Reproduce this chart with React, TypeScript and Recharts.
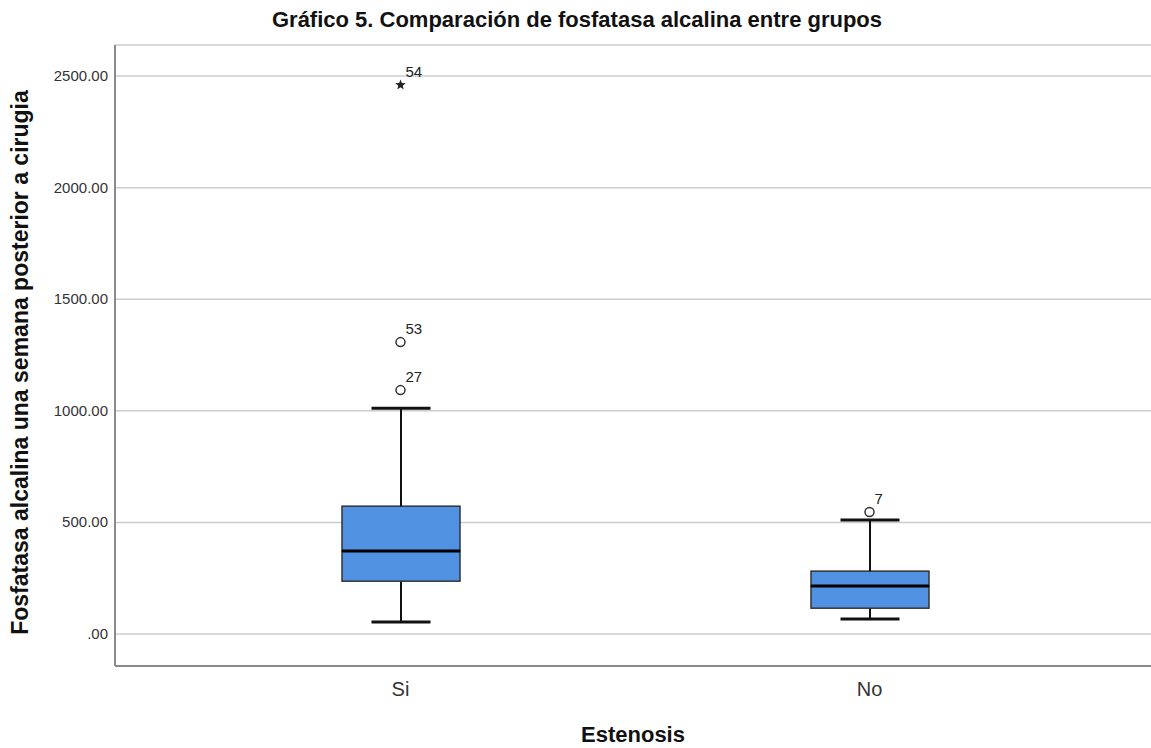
import { ComposedChart, Bar, Scatter, XAxis, YAxis, CartesianGrid, Label } from 'recharts';

const groups = ['Si', 'No'];
const minVals = [54, 67];
const q1Vals = [237, 116];
const medianVals = [372, 215];
const q3Vals = [573, 282];
const maxVals = [1012, 511];

const outlierGroups = ['Si', 'Si', 'Si', 'No'];
const outlierValues = [2460, 1308, 1093, 547];
const outlierIds = ['54', '53', '27', '7'];
const outlierExtreme = [true, false, false, false];

const yTicks = [0, 500, 1000, 1500, 2000, 2500];

const BOX_FILL = '#5191e2';
const FONT = '"Liberation Sans", Arial, sans-serif';

const rows = groups.map((g, i) => {
  const row: Record<string, string | number | null> = {
    group: g,
    base: minVals[i],
    lowWhisker: q1Vals[i] - minVals[i],
    lowBox: medianVals[i] - q1Vals[i],
    highBox: q3Vals[i] - medianVals[i],
    highWhisker: maxVals[i] - q3Vals[i],
  };
  outlierValues.forEach((v, k) => {
    row[`o${k}`] = outlierGroups[k] === g ? v : null;
  });
  return row;
});

const Empty = () => <g />;

const LowWhisker = (p: any) => {
  const cx = p.x + p.width / 2;
  return (
    <g>
      <line x1={cx} x2={cx} y1={p.y} y2={p.y + p.height} stroke="#111" strokeWidth={2} />
      <line x1={p.x + p.width / 4} x2={p.x + (3 * p.width) / 4} y1={p.y + p.height} y2={p.y + p.height} stroke="#111" strokeWidth={3} />
    </g>
  );
};

const HighWhisker = (p: any) => {
  const cx = p.x + p.width / 2;
  return (
    <g>
      <line x1={cx} x2={cx} y1={p.y} y2={p.y + p.height} stroke="#111" strokeWidth={2} />
      <line x1={p.x + p.width / 4} x2={p.x + (3 * p.width) / 4} y1={p.y} y2={p.y} stroke="#111" strokeWidth={3} />
    </g>
  );
};

const LowBox = (p: any) => (
  <rect x={p.x} y={p.y} width={p.width} height={p.height} fill={BOX_FILL} stroke="#333" strokeWidth={1.5} />
);

const HighBox = (p: any) => (
  <g>
    <rect x={p.x} y={p.y} width={p.width} height={p.height} fill={BOX_FILL} stroke="#333" strokeWidth={1.5} />
    <line x1={p.x} x2={p.x + p.width} y1={p.y + p.height} y2={p.y + p.height} stroke="#000" strokeWidth={3} />
  </g>
);

const starPoints = (cx: number, cy: number, r: number) => {
  const pts: string[] = [];
  for (let i = 0; i < 10; i++) {
    const rad = i % 2 === 0 ? r : r * 0.42;
    const a = -Math.PI / 2 + (i * Math.PI) / 5;
    pts.push(`${cx + rad * Math.cos(a)},${cy + rad * Math.sin(a)}`);
  }
  return pts.join(' ');
};

const makeOutlier = (key: string, id: string, extreme: boolean) => (p: any) => {
  const v = p.payload ? p.payload[key] : null;
  if (v == null || p.cy == null || Number.isNaN(p.cy)) return <g />;
  return (
    <g>
      {extreme ? (
        <polygon points={starPoints(p.cx, p.cy, 5.5)} fill="#222" />
      ) : (
        <circle cx={p.cx} cy={p.cy} r={4.5} fill="#fff" stroke="#333" strokeWidth={1.5} />
      )}
      <text x={p.cx + 5} y={p.cy - 8} fontSize={15} fill="#222" fontFamily={FONT}>
        {id}
      </text>
    </g>
  );
};

const YTick = (p: any) => (
  <text x={p.x} y={p.y} dy={5} textAnchor="end" fontSize={15} fill="#333" fontFamily={FONT}>
    {p.payload.value === 0 ? '.00' : Number(p.payload.value).toFixed(2)}
  </text>
);

const XTick = (p: any) => (
  <text x={p.x} y={p.y} dy={16} textAnchor="middle" fontSize={20} fill="#333" fontFamily={FONT}>
    {p.payload.value}
  </text>
);

export default function App() {
  return (
    <div style={{ position: 'absolute', left: 0, top: 0, width: 1151, height: 748, background: '#fff', fontFamily: FONT }}>
      <div style={{ position: 'absolute', left: 0, width: 1154, top: 7, textAlign: 'center', fontSize: 22, fontWeight: 'bold', color: '#111' }}>
        Gráfico 5. Comparación de fosfatasa alcalina entre grupos
      </div>
      <ComposedChart width={1151} height={748} data={rows} margin={{ top: 45, right: 0, bottom: 0, left: 0 }}>
        <CartesianGrid vertical={false} stroke="#cccccc" strokeWidth={1.5} />
        <XAxis
          dataKey="group"
          type="category"
          height={82}
          padding={{ left: 51, right: 47 }}
          tickLine={false}
          axisLine={{ stroke: '#8a8a8a', strokeWidth: 2 }}
          tick={<XTick />}
          tickMargin={8}
        >
          <Label value="Estenosis" position="insideBottom" offset={6} style={{ fontSize: 22, fontWeight: 'bold', fill: '#111', fontFamily: FONT }} />
        </XAxis>
        <YAxis
          type="number"
          width={115}
          domain={[-143, 2639]}
          ticks={yTicks}
          interval={0}
          tickLine={false}
          axisLine={{ stroke: '#8a8a8a', strokeWidth: 2 }}
          tick={<YTick />}
          tickMargin={1}
        >
          <Label
            value="Fosfatasa alcalina una semana posterior a cirugia"
            angle={-90}
            position="insideLeft"
            offset={20}
            dy={7}
            style={{ textAnchor: 'middle', fontSize: 23, fontWeight: 'bold', fill: '#111', fontFamily: FONT }}
          />
        </YAxis>
        <Bar dataKey="base" stackId="box" barSize={118} shape={<Empty />} isAnimationActive={false} />
        <Bar dataKey="lowWhisker" stackId="box" barSize={118} shape={<LowWhisker />} isAnimationActive={false} />
        <Bar dataKey="lowBox" stackId="box" barSize={118} shape={<LowBox />} isAnimationActive={false} />
        <Bar dataKey="highBox" stackId="box" barSize={118} shape={<HighBox />} isAnimationActive={false} />
        <Bar dataKey="highWhisker" stackId="box" barSize={118} shape={<HighWhisker />} isAnimationActive={false} />
        {outlierIds.map((id, k) => (
          <Scatter key={id} dataKey={`o${k}`} shape={makeOutlier(`o${k}`, id, outlierExtreme[k])} isAnimationActive={false} />
        ))}
      </ComposedChart>
    </div>
  );
}
